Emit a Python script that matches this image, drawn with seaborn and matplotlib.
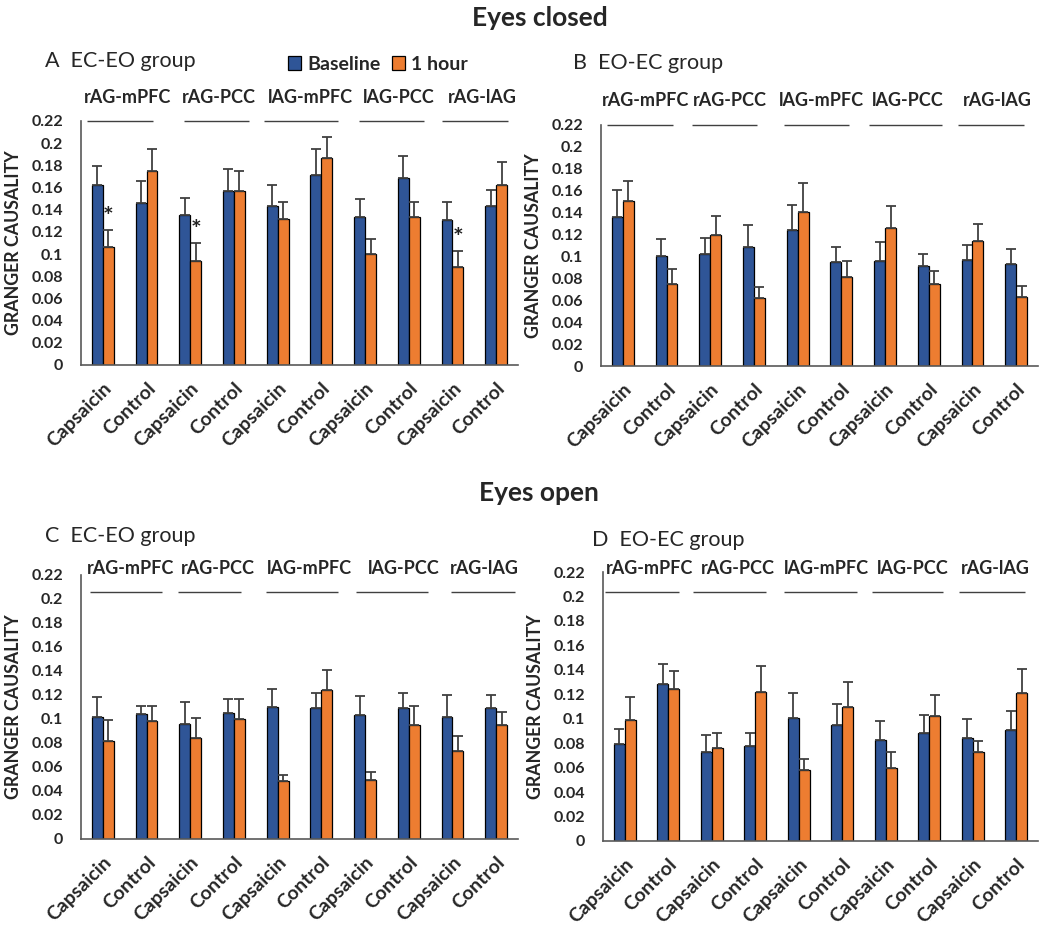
import numpy as np
import pandas as pd
import matplotlib
matplotlib.use("Agg")
import matplotlib.pyplot as plt
import matplotlib.transforms as mtransforms
import seaborn as sns

# ---- data -------------------------------------------------------------
pairs = ["rAG-mPFC", "rAG-PCC", "lAG-mPFC", "lAG-PCC", "rAG-lAG"]
conditions = ["Capsaicin", "Control"]
sessions = ["Baseline", "1 hour"]
yticks = [0, 0.02, 0.04, 0.06, 0.08, 0.1, 0.12, 0.14, 0.16, 0.18, 0.2, 0.22]

# A: eyes closed, EC-EO group
a_base = [0.162, 0.146, 0.135, 0.157, 0.143, 0.171, 0.133, 0.169, 0.131, 0.143]
a_base_err = [0.017, 0.020, 0.016, 0.020, 0.019, 0.024, 0.017, 0.019, 0.016, 0.015]
a_hour = [0.106, 0.175, 0.094, 0.157, 0.132, 0.187, 0.100, 0.133, 0.088, 0.162]
a_hour_err = [0.016, 0.020, 0.016, 0.018, 0.015, 0.019, 0.014, 0.014, 0.015, 0.021]
a_stars = [0, 2, 8]

# B: eyes closed, EO-EC group
b_base = [0.136, 0.100, 0.102, 0.109, 0.124, 0.095, 0.096, 0.091, 0.097, 0.093]
b_base_err = [0.025, 0.016, 0.015, 0.020, 0.023, 0.014, 0.017, 0.011, 0.013, 0.014]
b_hour = [0.151, 0.075, 0.120, 0.062, 0.141, 0.081, 0.126, 0.075, 0.114, 0.063]
b_hour_err = [0.018, 0.014, 0.017, 0.010, 0.026, 0.015, 0.020, 0.012, 0.016, 0.010]

# C: eyes open, EC-EO group
c_base = [0.102, 0.104, 0.096, 0.105, 0.110, 0.109, 0.103, 0.109, 0.102, 0.109]
c_base_err = [0.016, 0.007, 0.018, 0.012, 0.015, 0.013, 0.016, 0.013, 0.018, 0.011]
c_hour = [0.082, 0.098, 0.084, 0.100, 0.048, 0.124, 0.049, 0.095, 0.073, 0.095]
c_hour_err = [0.017, 0.013, 0.017, 0.017, 0.005, 0.017, 0.007, 0.016, 0.013, 0.011]

# D: eyes open, EO-EC group
d_base = [0.079, 0.128, 0.073, 0.078, 0.101, 0.095, 0.083, 0.088, 0.084, 0.091]
d_base_err = [0.013, 0.017, 0.014, 0.010, 0.020, 0.017, 0.015, 0.015, 0.016, 0.015]
d_hour = [0.099, 0.124, 0.076, 0.122, 0.058, 0.110, 0.060, 0.102, 0.073, 0.121]
d_hour_err = [0.019, 0.015, 0.012, 0.021, 0.009, 0.020, 0.013, 0.017, 0.009, 0.020]

# ---- style ------------------------------------------------------------
BLUE = "#2F5597"
ORANGE = "#ED7D31"
ERR = "#404040"
AXIS = "#595959"

sns.set_theme(style="white")
plt.rcParams["font.family"] = ["Lato", "DejaVu Sans"]

W, H = 1039, 927
fig = plt.figure(figsize=(W / 100, H / 100), dpi=100)


def px_axes(left, top, right, bottom):
    return fig.add_axes([left / W, 1 - bottom / H, (right - left) / W, (bottom - top) / H])


def draw_panel(ax, base, base_err, hour, hour_err, line_y, label_y,
               spans, label_x, stars=(), legend=False):
    n = len(base)
    df = pd.DataFrame({
        "slot": np.tile(np.arange(n), 2),
        "Session": np.repeat(sessions, n),
        "value": list(base) + list(hour),
    })
    sns.barplot(data=df, x="slot", y="value", hue="Session", hue_order=sessions,
                palette=[BLUE, ORANGE], width=0.5, edgecolor="black", linewidth=0.9,
                errorbar=None, ax=ax, legend=legend, saturation=1)

    # upward-only error bars on each bar
    for k, (cont, errs) in enumerate(zip(ax.containers, (base_err, hour_err))):
        bars = sorted(cont, key=lambda b: b.get_x())
        xs = np.array([b.get_x() + b.get_width() / 2 for b in bars])
        ys = np.array([b.get_height() for b in bars])
        errs = np.asarray(errs)
        ax.errorbar(xs, ys, yerr=[np.zeros(n), errs], fmt="none", ecolor=ERR,
                    elinewidth=1.3, capsize=3.5, capthick=1.3, zorder=3)
        if k == 1:
            for i in stars:
                ax.text(xs[i], ys[i] + errs[i] + 0.001, "*", ha="center", va="bottom",
                        fontsize=18, fontweight="bold", color="#222222")

    ax.set_xlim(-0.5, n - 0.5)
    ax.set_ylim(0, 0.22)
    ax.set_yticks(yticks)
    ax.set_yticklabels([f"{v:g}" for v in yticks], fontsize=11.5, fontweight="bold")
    ax.set_xticks(range(n))
    ax.set_xticklabels(conditions * len(pairs), rotation=45, ha="right", va="center",
                       rotation_mode="anchor", fontsize=14, fontweight="bold")
    ax.tick_params(axis="x", length=0, pad=15)
    ax.tick_params(axis="y", length=0, pad=13)
    shift = mtransforms.ScaledTranslation(6 / 100, 0, fig.dpi_scale_trans)
    for lab in ax.get_xticklabels():
        lab.set_transform(lab.get_transform() + shift)
    ax.set_xlabel("")
    ax.set_ylabel("GRANGER CAUSALITY", fontsize=12.8, fontweight="bold")
    ax.yaxis.set_label_coords(-0.135, 0.5)

    for side in ("top", "right"):
        ax.spines[side].set_visible(False)
    for side in ("left", "bottom"):
        ax.spines[side].set_color(AXIS)
        ax.spines[side].set_linewidth(1.2)

    # connection names with a rule beneath each pair of conditions
    for name, (x0, x1), xl in zip(pairs, spans, label_x):
        ax.plot([x0, x1], [line_y, line_y], color=ERR, lw=1.0,
                clip_on=False, solid_capstyle="butt")
        ax.text(xl, label_y, name, ha="center", va="center",
                fontsize=13, fontweight="bold", clip_on=False)


axA = px_axes(81, 121, 518, 365)
axB = px_axes(601, 125, 1038, 366)
axC = px_axes(81, 575, 518, 839)
axD = px_axes(603, 572, 1038, 841)

draw_panel(axA, a_base, a_base_err, a_hour, a_hour_err, 0.22, 0.241,
           spans=[(-0.36, 1.15), (1.86, 3.35), (3.69, 5.38), (5.86, 7.35), (7.76, 9.27)],
           label_x=[0.57, 2.66, 4.74, 6.77, 8.69], stars=a_stars, legend=True)
draw_panel(axB, b_base, b_base_err, b_hour, b_hour_err, 0.22, 0.242,
           spans=[(-0.36, 1.14), (1.59, 3.08), (3.68, 5.17), (5.63, 7.31), (7.67, 9.18)],
           label_x=[0.53, 2.46, 4.55, 6.51, 8.57])
draw_panel(axC, c_base, c_base_err, c_hour, c_hour_err, 0.206, 0.2255,
           spans=[(-0.30, 1.36), (1.72, 3.15), (3.73, 5.37), (5.79, 7.43), (7.96, 9.42)],
           label_x=[0.64, 2.64, 4.72, 6.88, 8.74])
draw_panel(axD, d_base, d_base_err, d_hour, d_hour_err, 0.204, 0.2225,
           spans=[(-0.45, 1.25), (1.58, 3.25), (3.67, 5.35), (5.68, 7.32), (7.69, 9.20)],
           label_x=[0.58, 2.60, 4.63, 6.63, 8.53])

sns.move_legend(axA, loc="center left", bbox_to_anchor=(270 / W, 1 - 64 / H),
                bbox_transform=fig.transFigure, ncol=2, title=None, frameon=False,
                handlelength=0.7, handleheight=0.7, handletextpad=0.3,
                columnspacing=0.6, prop={"weight": "bold", "size": 14})

fig.text(540 / W, 1 - 18 / H, "Eyes closed", ha="center", va="center",
         fontsize=19, fontweight="bold")
fig.text(539 / W, 1 - 493 / H, "Eyes open", ha="center", va="center",
         fontsize=19, fontweight="bold")

fig.text(45 / W, 1 - 61 / H, "A  EC-EO group", ha="left", va="center", fontsize=15.5)
fig.text(573 / W, 1 - 63 / H, "B  EO-EC group", ha="left", va="center", fontsize=15.5)
fig.text(45 / W, 1 - 536 / H, "C  EC-EO group", ha="left", va="center", fontsize=15.5)
fig.text(592 / W, 1 - 540 / H, "D  EO-EC group", ha="left", va="center", fontsize=15.5)

fig.savefig("out.png", dpi=100)
